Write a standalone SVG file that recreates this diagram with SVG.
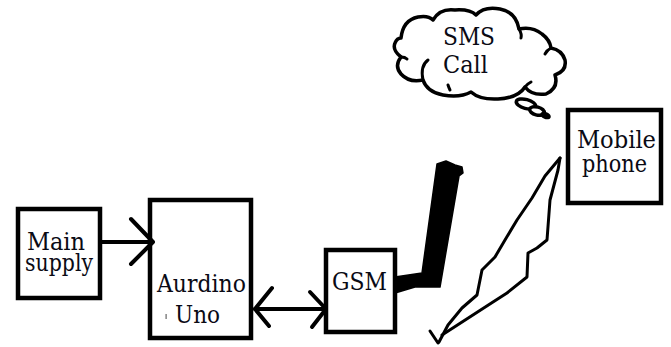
<svg xmlns="http://www.w3.org/2000/svg" width="671" height="347" viewBox="0 0 671 347">
<style>
.box{fill:#fff;stroke:#000;stroke-width:4.5}
.lbl{font-family:"DejaVu Serif","Liberation Serif",serif;font-size:24px;fill:#0a0a14}
.conn{fill:none;stroke:#000;stroke-width:4;stroke-linecap:round;stroke-linejoin:round}
.thin{fill:none;stroke:#000;stroke-width:3;stroke-linecap:round;stroke-linejoin:round}
.cloud{fill:#fff;stroke:#000;stroke-width:3.5;stroke-linecap:round;stroke-linejoin:round}
</style>
<rect width="671" height="347" fill="#fff"/>
<g id="cloud">
<path class="cloud" d="M401,38 Q403,20 418,17 Q428,15 433,20 Q440,8 455,10 Q470,9 476,15 Q484,6 500,9 Q516,12 519,29 Q532,26 542,34 Q550,40 551,48 Q562,50 565,60 Q567,71 555,75 Q559,88 546,94 Q532,96 525,87 Q518,98 498,99 Q480,100 471,92 Q460,98 443,95 Q427,92 423,80 Q409,83 401,74 Q394,66 401,57 Q392,50 395,43 Q397,38 401,38 Z"/>
<path class="thin" d="M401,57 Q405,57 407,59"/>
<path class="thin" d="M428,60 Q420,66 423,80"/>
<path class="thin" d="M448,85 Q449,88 450,90"/>
<path class="thin" d="M519,29 Q522,34 521,38"/>
<path class="thin" d="M551,48 Q547,50 545,54"/>
<path class="thin" d="M525,87 Q527,84 531,82"/>
<ellipse class="cloud" cx="526" cy="104" rx="10" ry="4.5" transform="rotate(15 526 104)"/>
<ellipse class="cloud" cx="537" cy="111" rx="7.5" ry="4" transform="rotate(15 537 111)"/>
<ellipse cx="545.5" cy="115.5" rx="5.5" ry="3.5" fill="#000" transform="rotate(20 545.5 115.5)"/>
<text class="lbl" x="443" y="45" textLength="52" lengthAdjust="spacingAndGlyphs">SMS</text>
<text class="lbl" x="443" y="73" textLength="45" lengthAdjust="spacingAndGlyphs">Call</text>
</g>
<g id="main-supply">
<rect class="box" x="18" y="209" width="82" height="89"/>
<text class="lbl" x="27" y="250" textLength="58" lengthAdjust="spacingAndGlyphs">Main</text>
<text class="lbl" x="25" y="271" textLength="68" lengthAdjust="spacingAndGlyphs">supply</text>
</g>
<g id="aurdino-uno">
<rect class="box" x="150" y="200" width="101" height="138"/>
<text class="lbl" x="157" y="292" textLength="89" lengthAdjust="spacingAndGlyphs">Aurdino</text>
<text class="lbl" x="175" y="323" textLength="45" lengthAdjust="spacingAndGlyphs">Uno</text>
<rect x="165.5" y="314" width="1.2" height="5" fill="#666"/>
</g>
<g id="gsm">
<rect class="box" x="326" y="250" width="69" height="82"/>
<text class="lbl" x="332" y="290" textLength="55" lengthAdjust="spacingAndGlyphs">GSM</text>
</g>
<g id="mobile-phone">
<rect class="box" x="568" y="110" width="93" height="93"/>
<text class="lbl" x="577" y="148" textLength="79" lengthAdjust="spacingAndGlyphs">Mobile</text>
<text class="lbl" x="582" y="172" textLength="65" lengthAdjust="spacingAndGlyphs">phone</text>
</g>
<g id="connectors">
<path class="conn" d="M102,242 H152"/>
<path class="conn" d="M131,219 L153,242 L131,264"/>
<path class="conn" d="M255,309 H325"/>
<path class="conn" d="M272,288 L255,309 L269,326"/>
<path class="conn" d="M310,292 L326,309 L312,327"/>
<path d="M395,277 L422,273 L437,164 L446,161 L455,165 L462,167 L463,173 L459,176 L440,287 L415,287 L395,293 Z" fill="#000" stroke="#000" stroke-width="1.5" stroke-linejoin="round"/>
<path class="thin" d="M560,158 L545,176 L532,198 L517,220 L505,240 L495,257 L482,270 L477,295 L462,308 L448,325 L439,342"/>
<path class="thin" d="M560,158 L558,170 L550,200 L547,240 L537,248 L528,253 L527,277 L507,293 L493,302 L442,335"/>
<path class="thin" d="M430,331 L438,343"/>
</g>
</svg>
